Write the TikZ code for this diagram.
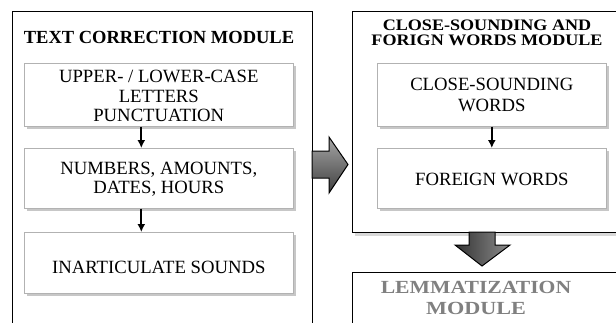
\documentclass[tikz,border=0pt]{standalone}
\usepackage{fontspec}
\setmainfont{Liberation Serif}
\usetikzlibrary{shadows,arrows.meta,calc}
\begin{document}
\begin{tikzpicture}[x=1pt,y=-1pt,
  module/.style={draw=black, line width=1.4pt, fill=white, anchor=north west, inner sep=0pt},
  subbox/.style={draw=black!30, line width=0.6pt, fill=white, anchor=north west,
     minimum width=269pt, minimum height=63pt, inner sep=0pt, align=center,
     font=\fontsize{18.7}{19.5}\selectfont,
     drop shadow={shadow xshift=2.5pt, shadow yshift=-3pt, fill=black!40, opacity=.55}},
  subtext/.style={font=\fontsize{18.7}{19.5}\selectfont, inner sep=0pt, align=center},
  title/.style={font=\fontsize{18.5}{14.5}\selectfont\bfseries, align=center, inner sep=0pt},
  flow/.style={-{Latex[length=8pt,width=8pt]}, line width=1.8pt},
  bigarrow/.style={draw=black, line width=1pt, line join=miter}]
\useasboundingbox (0,0) rectangle (616,322);
\clip (0,0) rectangle (616,322);
\fill[white] (0,0) rectangle (616,322);

% left module
\node[module, minimum width=300pt, minimum height=360pt] (left) at (12,11) {};
\node[title] (ltitle) at (159,37) {TEXT CORRECTION MODULE};
\node[subbox] (b1) at (24,63) {};
\node[subtext] (b1t) at ([yshift=-1.5pt]b1.center) {UPPER- / LOWER-CASE\\LETTERS\\PUNCTUATION};
\node[subbox, minimum height=60pt] (b2) at (24,148) {};
\node[subtext] (b2t) at ([yshift=-1pt]b2.center) {NUMBERS, AMOUNTS,\\DATES, HOURS};
\node[subbox, minimum height=61pt] (b3) at (24,232) {};
\node[subtext] (b3t) at ([yshift=-4.5pt]b3.center) {INARTICULATE SOUNDS};
\draw[flow] ([xshift=-17.5pt]b1.south) -- ([xshift=-17.5pt]b2.north);
\draw[flow] ([xshift=-17.5pt]b2.south) -- ([xshift=-17.5pt]b3.north);

% right module
\node[module, minimum width=290pt, minimum height=221pt,
  drop shadow={shadow xshift=2pt, shadow yshift=-3pt, fill=black!30, opacity=.5}] (right) at (352,11) {};
\node[title, font=\fontsize{16}{14.5}\selectfont\bfseries] (rtitle) at (487,33)
  {\scalebox{1.13}[1]{CLOSE-SOUNDING AND}\\\scalebox{1.13}[1]{FORIGN WORDS MODULE}};
\node[subbox, minimum width=229pt] (b4) at (377,63) {};
\node[subtext, font=\fontsize{18.7}{21}\selectfont] (b4t) at (b4.center) {CLOSE-SOUNDING\\WORDS};
\node[subbox, minimum width=229pt, minimum height=60pt] (b5) at (377,148) {};
\node[subtext] (b5t) at ([yshift=-1.5pt]b5.center) {FOREIGN WORDS};
\draw[flow] (b4.south) -- (b5.north);

% lemmatization module
\node[module, minimum width=290pt, minimum height=80pt] (lem) at (352,272) {};
\node[title, text=black!50, font=\fontsize{18.5}{21}\selectfont\bfseries] (ltit) at (476,298)
  {\scalebox{1.17}[1]{LEMMATIZATION}\\\scalebox{1.2}[1]{MODULE}};

% big arrows
\shade[bigarrow, top color=black!35, bottom color=black!75]
  (312,151) -- (329,151) -- (329,137) -- (348,164.5) -- (329,193) -- (329,178) -- (312,178) -- cycle;
\shade[bigarrow, left color=black!80, right color=black!45]
  (469,232) -- (469,245) -- (455,245) -- (482,266) -- (510,245) -- (495,245) -- (495,232) -- cycle;
\end{tikzpicture}
\end{document}
